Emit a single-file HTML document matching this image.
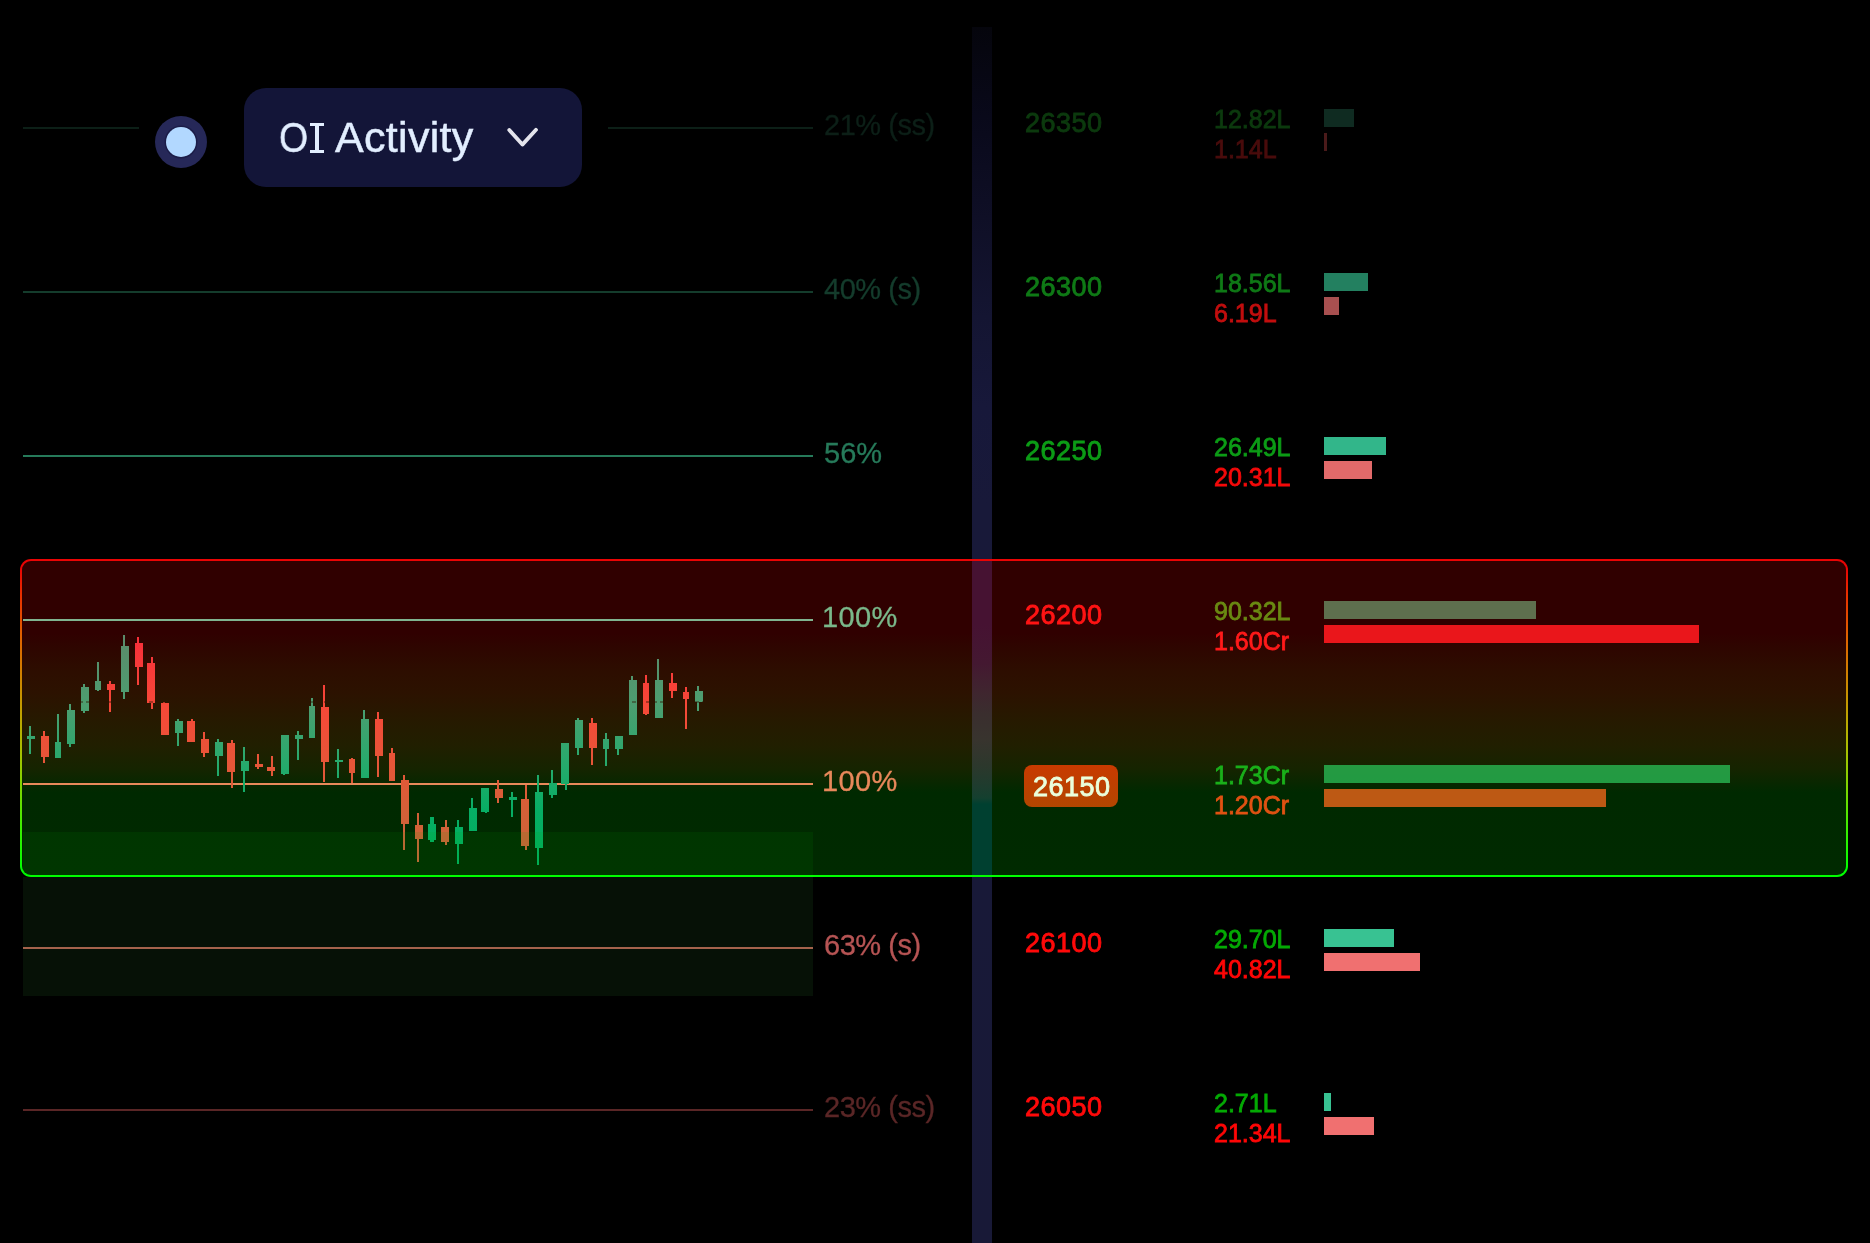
<!DOCTYPE html>
<html><head><meta charset="utf-8"><title>OI Activity</title><style>
*{margin:0;padding:0;box-sizing:border-box}
html,body{width:1870px;height:1243px;background:#000;overflow:hidden}
body{position:relative;font-family:"Liberation Sans",sans-serif;-webkit-font-smoothing:antialiased}
.vbar{position:absolute;left:972px;top:27px;width:20px;height:1216px;
 background:linear-gradient(to bottom,#05050c 0px,#09091a 90px,#0f0f26 190px,#141532 290px,#17183a 380px,#181939 480px,#181937 1216px)}
.box{position:absolute;left:20px;top:559px;width:1828px;height:318px;border-radius:11px;padding:2px;
 background:linear-gradient(to bottom,#ea0404 0%,#ea0404 3%,#e83000 11.3%,#e06000 23.6%,#d08000 35.8%,#c0a000 48.1%,#a8c000 60.4%,#78d800 73%,#38f000 85.2%,#00ff00 97.5%,#00ff00 100%)}
.boxbg{position:absolute;left:2px;top:2px;right:2px;bottom:2px;border-radius:9px;background:#000}
.boxbg:after{content:"";position:absolute;inset:0;border-radius:9px;
 background:linear-gradient(to bottom,rgba(240,0,0,.2) 0%,rgba(240,0,0,.2) 23%,rgba(230,30,0,.2) 28%,rgba(225,70,0,.2) 35.5%,rgba(220,90,0,.2) 42%,rgba(190,130,0,.2) 51%,rgba(165,155,0,.2) 58.5%,rgba(110,180,0,.2) 66%,rgba(0,205,0,.2) 73.6%,rgba(0,210,0,.2) 100%)}
.vin{position:absolute;left:950px;top:0;width:20px;height:100%;z-index:2;background:linear-gradient(to bottom,#461232 0px,#461232 63px,#441831 102px,#40242f 128px,#3a2e2e 153px,#38342e 179px,#2c382c 205px,#1e3c2e 225px,#14402f 237px,#004030 243px,#004030 314px)}
.ln{position:absolute;left:23px;width:790px;height:2px}
.cs{position:absolute;left:0;top:0}
.mid{position:absolute;left:23px;top:701px;width:790px;height:2px;background:repeating-linear-gradient(to right,rgba(44,20,0,.4) 0 4px,transparent 4px 7px)}
.grect{position:absolute;left:23px;top:832px;width:790px;height:164px;background:rgba(60,170,60,.1)}
.lbl{position:absolute;left:824px;font-size:29px;line-height:29px;-webkit-text-stroke-width:.3px;white-space:nowrap;will-change:transform}
.stk{position:absolute;left:1025px;font-size:27px;line-height:27px;font-weight:400;-webkit-text-stroke-width:.85px;letter-spacing:.5px;white-space:nowrap;will-change:transform}
.val{position:absolute;left:1213.8px;font-size:25px;line-height:25px;font-weight:400;-webkit-text-stroke-width:.8px;letter-spacing:0;white-space:nowrap;will-change:transform}
.bar{position:absolute;left:1324px;height:18px}
.badge{position:absolute;left:1024px;top:765px;width:94px;height:42px;border-radius:8px;
 background:linear-gradient(to bottom,#c83a00,#b24600);}
.badge span{position:absolute;left:9px;top:9px;font-size:27px;line-height:27px;font-weight:400;-webkit-text-stroke-width:.85px;letter-spacing:.5px;color:#eaffdc;white-space:nowrap;will-change:transform}
.dot{position:absolute;left:155px;top:116px;width:52px;height:52px;border-radius:50%;background:#262858}
.dotin{position:absolute;left:11px;top:11px;width:30px;height:30px;border-radius:50%;background:#b2d8ff;box-shadow:0 0 0 1.5px #1c1d48}
.btn{position:absolute;left:244px;top:88px;width:338px;height:99px;border-radius:22px;background:#131538}
.btxt{position:absolute;top:28px;font-size:43px;line-height:43px;-webkit-text-stroke-width:.5px;letter-spacing:.3px;color:#e2eeff;white-space:nowrap;will-change:transform}
.bo{left:35px;transform:scaleX(.87);transform-origin:0 0}
.ba{left:91.3px}
.slab{position:absolute;left:66.3px;top:35.2px;width:13.6px;height:30px;border-top:3.6px solid #e2eeff;border-bottom:3.6px solid #e2eeff}
.slab:after{content:"";position:absolute;left:4.4px;top:0;width:4.8px;height:100%;background:#e2eeff}
.chev{position:absolute;left:261px;top:39px}
</style></head><body>
<div class="vbar"></div>
<div class="box"><div class="boxbg"><div class="vin"></div></div></div>
<div class="ln" style="top:127px;left:23px;width:116px;background:#0c1f17"></div>
<div class="ln" style="top:127px;left:608px;width:205px;background:#0c1f17"></div>
<div class="ln" style="top:291px;background:#143c2c"></div>
<div class="ln" style="top:455px;background:#267a5a"></div>
<div class="ln" style="top:619px;background:#80b490"></div>
<div class="ln" style="top:783px;background:#e8895a"></div>
<div class="ln" style="top:947px;background:#b05c4e"></div>
<div class="ln" style="top:1109px;background:#5a2626"></div>
<svg class="cs" width="820" height="1000" viewBox="0 0 820 1000">
<defs>
<linearGradient id="cg" gradientUnits="userSpaceOnUse" x1="0" y1="635" x2="0" y2="870">
<stop offset="0" stop-color="#5c8a6a"/><stop offset="0.3" stop-color="#4c9e70"/><stop offset="0.55" stop-color="#26aa6c"/><stop offset="0.75" stop-color="#06ae64"/><stop offset="1" stop-color="#00b05c"/>
</linearGradient>
<linearGradient id="cr" gradientUnits="userSpaceOnUse" x1="0" y1="635" x2="0" y2="870">
<stop offset="0" stop-color="#f82e3a"/><stop offset="0.3" stop-color="#f64838"/><stop offset="0.55" stop-color="#e65638"/><stop offset="0.75" stop-color="#d46038"/><stop offset="1" stop-color="#c86638"/>
</linearGradient>
</defs>
<rect x="29" y="726" width="2" height="28" fill="url(#cg)"/>
<rect x="27" y="736" width="8" height="3" fill="url(#cg)"/>
<rect x="43" y="731" width="2" height="32" fill="url(#cr)"/>
<rect x="41" y="736" width="8" height="21" fill="url(#cr)"/>
<rect x="57" y="714" width="2" height="44" fill="url(#cg)"/>
<rect x="55" y="742" width="6" height="16" fill="url(#cg)"/>
<rect x="69" y="704" width="2" height="43" fill="url(#cg)"/>
<rect x="67" y="710" width="8" height="34" fill="url(#cg)"/>
<rect x="83" y="684" width="2" height="29" fill="url(#cg)"/>
<rect x="81" y="687" width="8" height="24" fill="url(#cg)"/>
<rect x="97" y="662" width="2" height="29" fill="url(#cg)"/>
<rect x="95" y="681" width="6" height="9" fill="url(#cg)"/>
<rect x="109" y="681" width="2" height="31" fill="url(#cr)"/>
<rect x="107" y="684" width="8" height="6" fill="url(#cr)"/>
<rect x="123" y="635" width="2" height="64" fill="url(#cg)"/>
<rect x="121" y="646" width="8" height="46" fill="url(#cg)"/>
<rect x="137" y="637" width="2" height="48" fill="url(#cr)"/>
<rect x="135" y="643" width="8" height="24" fill="url(#cr)"/>
<rect x="151" y="657" width="2" height="52" fill="url(#cr)"/>
<rect x="147" y="663" width="8" height="40" fill="url(#cr)"/>
<rect x="163" y="702" width="2" height="33" fill="url(#cr)"/>
<rect x="161" y="703" width="8" height="32" fill="url(#cr)"/>
<rect x="177" y="719" width="2" height="27" fill="url(#cg)"/>
<rect x="175" y="721" width="8" height="12" fill="url(#cg)"/>
<rect x="191" y="719" width="2" height="23" fill="url(#cr)"/>
<rect x="187" y="721" width="8" height="21" fill="url(#cr)"/>
<rect x="203" y="732" width="2" height="25" fill="url(#cr)"/>
<rect x="201" y="739" width="8" height="14" fill="url(#cr)"/>
<rect x="217" y="739" width="2" height="37" fill="url(#cg)"/>
<rect x="215" y="742" width="8" height="14" fill="url(#cg)"/>
<rect x="231" y="740" width="2" height="48" fill="url(#cr)"/>
<rect x="227" y="743" width="8" height="29" fill="url(#cr)"/>
<rect x="243" y="747" width="2" height="45" fill="url(#cg)"/>
<rect x="241" y="761" width="8" height="10" fill="url(#cg)"/>
<rect x="257" y="754" width="2" height="15" fill="url(#cr)"/>
<rect x="255" y="764" width="8" height="3" fill="url(#cr)"/>
<rect x="271" y="756" width="2" height="20" fill="url(#cr)"/>
<rect x="267" y="767" width="8" height="4" fill="url(#cr)"/>
<rect x="283" y="735" width="2" height="40" fill="url(#cg)"/>
<rect x="281" y="735" width="8" height="39" fill="url(#cg)"/>
<rect x="297" y="731" width="2" height="29" fill="url(#cg)"/>
<rect x="295" y="735" width="8" height="4" fill="url(#cg)"/>
<rect x="311" y="698" width="2" height="40" fill="url(#cg)"/>
<rect x="309" y="706" width="6" height="32" fill="url(#cg)"/>
<rect x="323" y="685" width="2" height="97" fill="url(#cr)"/>
<rect x="321" y="707" width="8" height="55" fill="url(#cr)"/>
<rect x="337" y="749" width="2" height="29" fill="url(#cg)"/>
<rect x="335" y="760" width="8" height="2" fill="url(#cg)"/>
<rect x="351" y="758" width="2" height="25" fill="url(#cr)"/>
<rect x="349" y="759" width="6" height="14" fill="url(#cr)"/>
<rect x="363" y="710" width="2" height="68" fill="url(#cg)"/>
<rect x="361" y="719" width="8" height="59" fill="url(#cg)"/>
<rect x="377" y="712" width="2" height="65" fill="url(#cr)"/>
<rect x="375" y="719" width="8" height="37" fill="url(#cr)"/>
<rect x="391" y="748" width="2" height="33" fill="url(#cr)"/>
<rect x="389" y="753" width="6" height="28" fill="url(#cr)"/>
<rect x="403" y="775" width="2" height="75" fill="url(#cr)"/>
<rect x="401" y="780" width="8" height="44" fill="url(#cr)"/>
<rect x="417" y="813" width="2" height="49" fill="url(#cr)"/>
<rect x="415" y="825" width="8" height="14" fill="url(#cr)"/>
<rect x="430" y="817" width="4" height="25" fill="url(#cg)"/>
<rect x="428" y="824" width="8" height="16" fill="url(#cg)"/>
<rect x="445" y="820" width="2" height="25" fill="url(#cr)"/>
<rect x="441" y="827" width="8" height="15" fill="url(#cr)"/>
<rect x="457" y="820" width="2" height="44" fill="url(#cg)"/>
<rect x="455" y="827" width="8" height="17" fill="url(#cg)"/>
<rect x="471" y="798" width="2" height="33" fill="url(#cg)"/>
<rect x="469" y="808" width="8" height="23" fill="url(#cg)"/>
<rect x="485" y="788" width="2" height="25" fill="url(#cg)"/>
<rect x="481" y="788" width="8" height="24" fill="url(#cg)"/>
<rect x="497" y="780" width="2" height="23" fill="url(#cr)"/>
<rect x="495" y="789" width="8" height="9" fill="url(#cr)"/>
<rect x="511" y="792" width="2" height="25" fill="url(#cg)"/>
<rect x="509" y="797" width="8" height="3" fill="url(#cg)"/>
<rect x="525" y="785" width="2" height="65" fill="url(#cr)"/>
<rect x="521" y="799" width="8" height="47" fill="url(#cr)"/>
<rect x="537" y="775" width="2" height="90" fill="url(#cg)"/>
<rect x="535" y="792" width="8" height="56" fill="url(#cg)"/>
<rect x="551" y="770" width="2" height="28" fill="url(#cg)"/>
<rect x="549" y="783" width="8" height="12" fill="url(#cg)"/>
<rect x="565" y="743" width="2" height="47" fill="url(#cg)"/>
<rect x="561" y="743" width="8" height="41" fill="url(#cg)"/>
<rect x="577" y="718" width="2" height="37" fill="url(#cg)"/>
<rect x="575" y="720" width="8" height="28" fill="url(#cg)"/>
<rect x="591" y="718" width="2" height="47" fill="url(#cr)"/>
<rect x="589" y="723" width="8" height="25" fill="url(#cr)"/>
<rect x="605" y="733" width="2" height="33" fill="url(#cg)"/>
<rect x="603" y="739" width="6" height="10" fill="url(#cg)"/>
<rect x="617" y="736" width="2" height="19" fill="url(#cg)"/>
<rect x="615" y="736" width="8" height="13" fill="url(#cg)"/>
<rect x="631" y="676" width="2" height="59" fill="url(#cg)"/>
<rect x="629" y="680" width="8" height="55" fill="url(#cg)"/>
<rect x="645" y="675" width="2" height="40" fill="url(#cr)"/>
<rect x="643" y="683" width="6" height="31" fill="url(#cr)"/>
<rect x="657" y="659" width="2" height="59" fill="url(#cg)"/>
<rect x="655" y="680" width="8" height="38" fill="url(#cg)"/>
<rect x="671" y="673" width="2" height="25" fill="url(#cr)"/>
<rect x="669" y="683" width="8" height="8" fill="url(#cr)"/>
<rect x="685" y="687" width="2" height="42" fill="url(#cr)"/>
<rect x="683" y="692" width="6" height="7" fill="url(#cr)"/>
<rect x="697" y="686" width="2" height="25" fill="url(#cg)"/>
<rect x="695" y="691" width="8" height="11" fill="url(#cg)"/>
</svg>
<div class="mid"></div>
<div class="grect" style="top:832px;height:43px;background:rgba(0,170,0,.1)"></div>
<div class="grect" style="top:877px;height:119px"></div>
<div class="lbl" style="top:110.95px;left:824px;color:#0c1f17;letter-spacing:-0.45px">21% (ss)</div>
<div class="lbl" style="top:274.95px;left:824px;color:#143c2c;letter-spacing:-0.45px">40% (s)</div>
<div class="lbl" style="top:438.95px;left:824px;color:#267a5a;letter-spacing:0px">56%</div>
<div class="lbl" style="top:602.95px;left:822.3px;color:#7ab88a;letter-spacing:0.4px">100%</div>
<div class="lbl" style="top:766.95px;left:822.3px;color:#e8885a;letter-spacing:0.4px">100%</div>
<div class="lbl" style="top:930.95px;left:824px;color:#b65454;letter-spacing:-0.45px">63% (s)</div>
<div class="lbl" style="top:1092.95px;left:824px;color:#5a2626;letter-spacing:-0.45px">23% (ss)</div>
<div class="stk" style="top:110.44px;color:#0c3a0e">26350</div>
<div class="stk" style="top:274.44px;color:#0f7a16">26300</div>
<div class="stk" style="top:438.44px;color:#0c9c16">26250</div>
<div class="stk" style="top:602.44px;color:#ff1414">26200</div>
<div class="stk" style="top:930.44px;color:#ff0a0a">26100</div>
<div class="stk" style="top:1094.44px;color:#ff0a0a">26050</div>
<div class="badge"><span>26150</span></div>
<div class="val" style="top:106.84px;color:#0c3a0e">12.82L</div>
<div class="val" style="top:136.84px;color:#4a0c0c">1.14L</div>
<div class="val" style="top:270.84px;color:#0f7a16">18.56L</div>
<div class="val" style="top:300.84px;color:#c20e0e">6.19L</div>
<div class="val" style="top:434.84px;color:#0c9c16">26.49L</div>
<div class="val" style="top:464.84px;color:#f40a0a">20.31L</div>
<div class="val" style="top:598.84px;color:#6a8a12">90.32L</div>
<div class="val" style="top:628.84px;color:#ff1a1a">1.60Cr</div>
<div class="val" style="top:762.84px;color:#1ab01a">1.73Cr</div>
<div class="val" style="top:792.84px;color:#e05212">1.20Cr</div>
<div class="val" style="top:926.84px;color:#04aa04">29.70L</div>
<div class="val" style="top:956.84px;color:#ff0606">40.82L</div>
<div class="val" style="top:1090.84px;color:#04aa04">2.71L</div>
<div class="val" style="top:1120.84px;color:#ff0606">21.34L</div>
<div class="bar" style="top:109px;width:30px;background:#0f2b21"></div>
<div class="bar" style="top:133px;width:3px;background:#4a1a1a"></div>
<div class="bar" style="top:273px;width:44px;background:#238060"></div>
<div class="bar" style="top:297px;width:15px;background:#a85050"></div>
<div class="bar" style="top:437px;width:62px;background:#32b68a"></div>
<div class="bar" style="top:461px;width:48px;background:#e26a6a"></div>
<div class="bar" style="top:601px;width:212px;background:rgba(105,135,95,0.82)"></div>
<div class="bar" style="top:625px;width:375px;background:rgba(255,24,30,0.9)"></div>
<div class="bar" style="top:765px;width:406px;background:rgba(40,180,80,0.82)"></div>
<div class="bar" style="top:789px;width:282px;background:rgba(230,100,24,0.82)"></div>
<div class="bar" style="top:929px;width:70px;background:#38c292"></div>
<div class="bar" style="top:953px;width:96px;background:#f07070"></div>
<div class="bar" style="top:1093px;width:7px;background:#38c292"></div>
<div class="bar" style="top:1117px;width:50px;background:#f07070"></div>
<div class="dot"><div class="dotin"></div></div>
<div class="btn"><span class="btxt bo">O</span><i class="slab"></i><span class="btxt ba">Activity</span><svg class="chev" width="36" height="24" viewBox="0 0 36 24"><path d="M4.3 3 L17.4 17.6 L31 2.8" fill="none" stroke="#e4e4ec" stroke-width="3.8" stroke-linecap="round" stroke-linejoin="round"/></svg></div>
</body></html>
